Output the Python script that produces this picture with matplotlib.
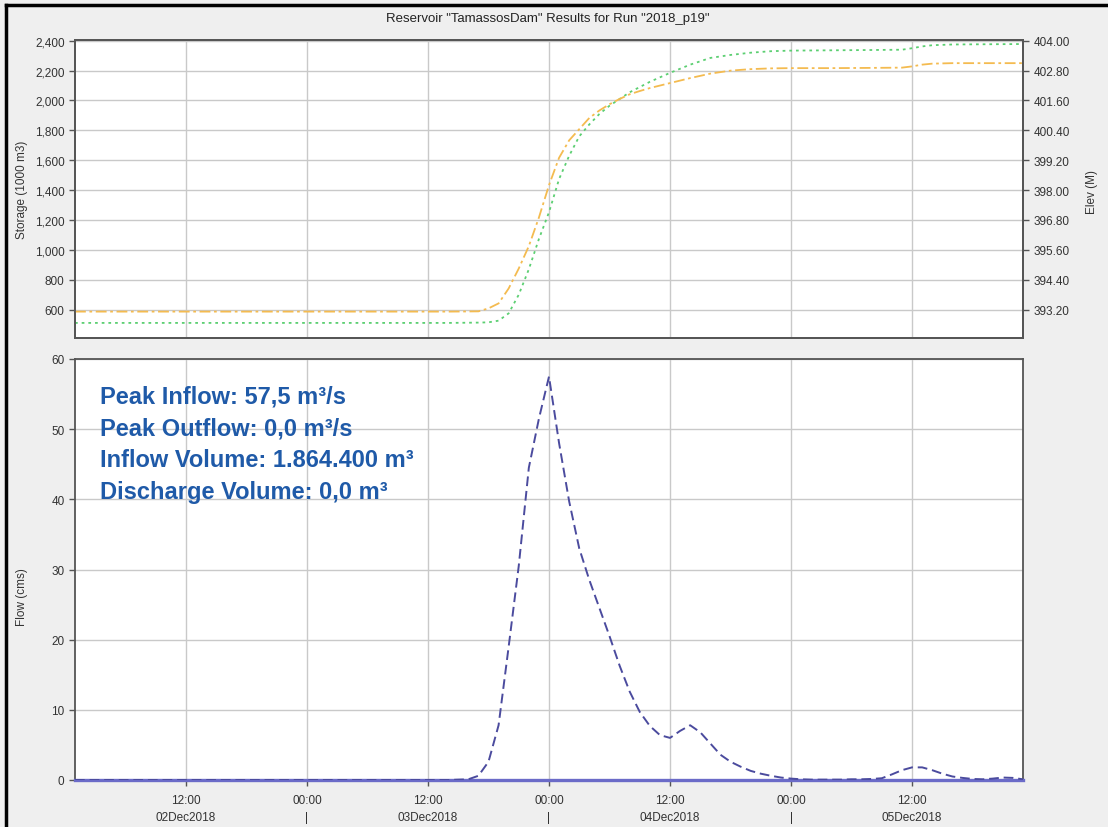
import matplotlib
matplotlib.use("Agg")
import matplotlib.pyplot as plt
from matplotlib.ticker import FuncFormatter
from matplotlib.lines import Line2D

plt.rcParams['font.family'] = ['Liberation Sans', 'DejaVu Sans']

# hours counted from 02Dec2018 00:00
flow_hours = list(range(1, 96))
inflow = [0.0] * 38 + [
    0.05, 0.1, 0.6, 2.6, 7.8, 19.0, 30.5, 44.5, 51.5, 57.5,
    48.0, 39.7, 33.0, 28.5, 24.5, 20.5, 16.3, 12.6, 9.7, 7.7,
    6.4, 6.0, 7.0, 7.8, 6.8, 5.2, 3.6, 2.6, 1.9, 1.3,
    0.9, 0.6, 0.35, 0.2, 0.1, 0.05, 0.05, 0.05, 0.05, 0.1,
    0.1, 0.15, 0.25, 0.8, 1.4, 1.8, 1.8, 1.4, 0.9, 0.5,
    0.3, 0.15, 0.1, 0.2, 0.35, 0.3, 0.1,
]
outflow = [0.0] * 95

res_hours = [1, 38, 41, 42, 43, 44, 45, 46, 47, 48, 49, 50, 51, 52, 53, 54,
             55, 56, 57, 58, 59, 60, 62, 64, 66, 68, 70, 72, 76, 80, 83, 84,
             85, 86, 88, 90, 95]
storage = [511, 511, 513, 515, 526, 575, 700, 870, 1073, 1252, 1474, 1630,
           1760, 1840, 1910, 1965, 2010, 2055, 2090, 2125, 2155, 2185, 2240,
           2285, 2305, 2320, 2330, 2334, 2336, 2338, 2340, 2350, 2362, 2370,
           2375, 2376, 2378]
elev = [393.12, 393.12, 393.13, 393.25, 393.45, 394.05, 394.85, 395.75,
        396.90, 398.20, 399.30, 400.00, 400.45, 400.90, 401.20, 401.45,
        401.66, 401.85, 401.98, 402.10, 402.20, 402.30, 402.50, 402.68,
        402.80, 402.86, 402.89, 402.90, 402.90, 402.91, 402.92, 402.97,
        403.04, 403.08, 403.10, 403.10, 403.10]

tick_hours = [12, 24, 36, 48, 60, 72, 84]
tick_labels = ['12:00\n02Dec2018', '00:00\n|', '12:00\n03Dec2018', '00:00\n|',
               '12:00\n04Dec2018', '00:00\n|', '12:00\n05Dec2018']

W, H = 1108, 828
fig = plt.figure(figsize=(W / 100, H / 100), dpi=100, facecolor='#efefef')

ax1 = fig.add_axes([75 / W, 1 - 339 / H, 948 / W, 298 / H])
ax2 = fig.add_axes([75 / W, 1 - 781 / H, 948 / W, 421 / H])

grid_kw = dict(color='#c9c9c9', linewidth=1.0)
for ax in (ax1, ax2):
    ax.set_facecolor('white')
    ax.set_xlim(1, 95)
    ax.set_xticks(tick_hours)
    ax.grid(True, **grid_kw)
    ax.set_axisbelow(True)
    for s in ax.spines.values():
        s.set_color('#555555')
        s.set_linewidth(1.3)
    ax.tick_params(colors='#555555', labelcolor='#333333', labelsize=8.5,
                   length=4, width=1)

# storage / elevation panel
ax1.plot(res_hours, storage, color='#5ccf72', linewidth=1.3,
         linestyle=(0, (1.5, 2.2)))
ax1.set_ylim(410, 2405)
ax1.set_yticks(range(600, 2401, 200))
ax1.yaxis.set_major_formatter(FuncFormatter(lambda v, p: f'{v:,.0f}'))
ax1.tick_params(axis='x', length=0, labelbottom=False)

ax1r = ax1.twinx()
ax1r.plot(res_hours, elev, color='#f4bb50', linewidth=1.3,
          linestyle=(0, (6, 2, 1.5, 2)))
lo, hi = ax1.get_ylim()
ax1r.set_ylim(393.2 + (lo - 600) * 0.006, 393.2 + (hi - 600) * 0.006)
ax1r.set_yticks([393.2 + 1.2 * i for i in range(10)])
ax1r.yaxis.set_major_formatter(FuncFormatter(lambda v, p: f'{v:.2f}'))
ax1r.tick_params(colors='#555555', labelcolor='#333333', labelsize=8.5,
                 length=4, width=1)
for s in ax1r.spines.values():
    s.set_color('#555555')
    s.set_linewidth(1.3)

# flow panel
ax2.plot(flow_hours, outflow, color='#6b6bc8', linewidth=2.4, zorder=3,
         clip_on=False)
ax2.plot(flow_hours, inflow, color='#4b4b9e', linewidth=1.4,
         linestyle=(0, (5, 2.5)), zorder=4)
ax2.set_ylim(0, 60)
ax2.set_yticks(range(0, 61, 10))
ax2.set_xticklabels(tick_labels, linespacing=1.55)
ax2.tick_params(axis='x', pad=6, labelsize=8.5)
ax2.spines['bottom'].set_visible(False)

fig.text(548 / W, 1 - 19 / H,
         'Reservoir "TamassosDam" Results for Run "2018_p19"',
         ha='center', va='center', fontsize=9.5, color='#222222')
fig.text(22 / W, 1 - 190 / H, 'Storage (1000 m3)', rotation=90,
         ha='center', va='center', fontsize=8.5, color='#333333')
fig.text(1092 / W, 1 - 192 / H, 'Elev (M)', rotation=90,
         ha='center', va='center', fontsize=8.5, color='#333333')
fig.text(22 / W, 1 - 597 / H, 'Flow (cms)', rotation=90,
         ha='center', va='center', fontsize=8.5, color='#333333')

summary = ['Peak Inflow: 57,5 m³/s', 'Peak Outflow: 0,0 m³/s',
           'Inflow Volume: 1.864.400 m³', 'Discharge Volume: 0,0 m³']
for i, line in enumerate(summary):
    fig.text(100 / W, 1 - (404 + 31.7 * i) / H, line, ha='left',
             va='baseline', fontsize=17, fontweight='bold', color='#1f5aa8')

# screenshot frame on top and left edges
fig.add_artist(Line2D([6 / W, 6 / W], [0, 1 - 6 / H], color='black',
                      linewidth=2.5, transform=fig.transFigure))
fig.add_artist(Line2D([6 / W, 1], [1 - 6 / H, 1 - 6 / H], color='black',
                      linewidth=2.5, transform=fig.transFigure))

fig.savefig('out.png', dpi=100, facecolor=fig.get_facecolor())
